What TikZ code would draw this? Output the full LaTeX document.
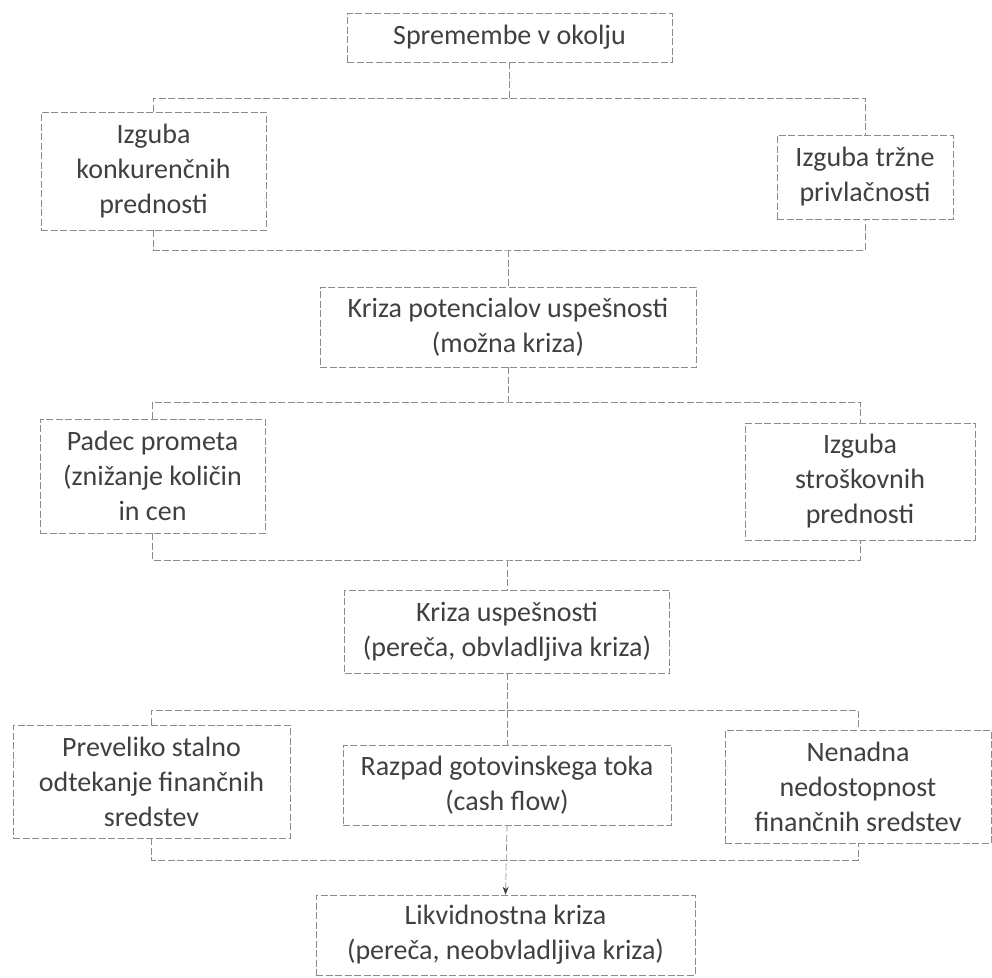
\documentclass[tikz,border=0pt]{standalone}
\usepackage{fontspec}
\setmainfont{Carlito}
\usetikzlibrary{arrows.meta}
\begin{document}
\begin{tikzpicture}[x=1pt,y=-1pt,
  boxnode/.style={draw=black!45, dash pattern=on 7pt off 2.5pt, line width=0.7pt,
    rectangle, align=center, inner sep=0pt, text=black!75,
    font=\fontsize{28}{35}\selectfont},
  conn/.style={draw=black!45, dash pattern=on 7pt off 2.5pt, line width=0.7pt},
  arr/.style={conn, -{Stealth[length=8pt,width=6pt,color=black!75]}}]
\useasboundingbox (0,0) rectangle (992,977);

\node[boxnode, minimum width=325pt, minimum height=49pt] (b1) at (509.5,37.5) {Spremembe v okolju};
\node[boxnode, minimum width=225pt, minimum height=118pt] (b2) at (153.5,171) {Izguba\\konkurenčnih\\prednosti};
\node[boxnode, minimum width=176pt, minimum height=84pt] (b3) at (865,177) {Izguba tržne\\privlačnosti};
\node[boxnode, minimum width=376pt, minimum height=80pt] (b4) at (508,327) {Kriza potencialov uspešnosti\\(možna kriza)};
\node[boxnode, minimum width=225pt, minimum height=114pt] (b5) at (152.5,476) {Padec prometa\\(znižanje količin\\in cen};
\node[boxnode, minimum width=230pt, minimum height=117pt] (b6) at (860,481.5) {Izguba\\stroškovnih\\prednosti};
\node[boxnode, minimum width=325pt, minimum height=83pt] (b7) at (507,631.5) {Kriza uspešnosti\\(pereča, obvladljiva kriza)};
\node[boxnode, minimum width=328pt, minimum height=80pt] (b8) at (507,785) {Razpad gotovinskega toka\\(cash flow)};
\node[boxnode, minimum width=277pt, minimum height=113pt] (b9) at (151.5,781.5) {Preveliko stalno\\odtekanje finančnih\\sredstev};
\node[boxnode, minimum width=266pt, minimum height=113pt] (b10) at (858,786.5) {Nenadna\\nedostopnost\\finančnih sredstev};
\node[boxnode, minimum width=379pt, minimum height=80pt] (b11) at (505.5,935) {Likvidnostna kriza\\(pereča, neobvladljiva kriza)};

\coordinate (r1) at (509.5,98);
\coordinate (r2) at (508,250);
\coordinate (r3) at (508,402);
\coordinate (r4) at (507,560);
\coordinate (r5) at (507,710);
\coordinate (r6) at (507,860);

\draw[conn] (b1.south) -- (r1);
\draw[conn] (b2.north) |- (r1) -| (b3.north);
\draw[conn] (b2.south) |- (r2) -| (b3.south);
\draw[conn] (r2) -- (b4.north);
\draw[conn] (b4.south) -- (r3);
\draw[conn] (b5.north) |- (r3) -| (b6.north);
\draw[conn] (b5.south) |- (r4) -| (b6.south);
\draw[conn] (r4) -- (b7.north);
\draw[conn] (b7.south) -- (b8.north);
\draw[conn] (b9.north) |- (r5) -| (b10.north);
\draw[conn] (b9.south) |- (r6) -| (b10.south);
\draw[arr] (b8.south) -- (b11.north);
\end{tikzpicture}
\end{document}
